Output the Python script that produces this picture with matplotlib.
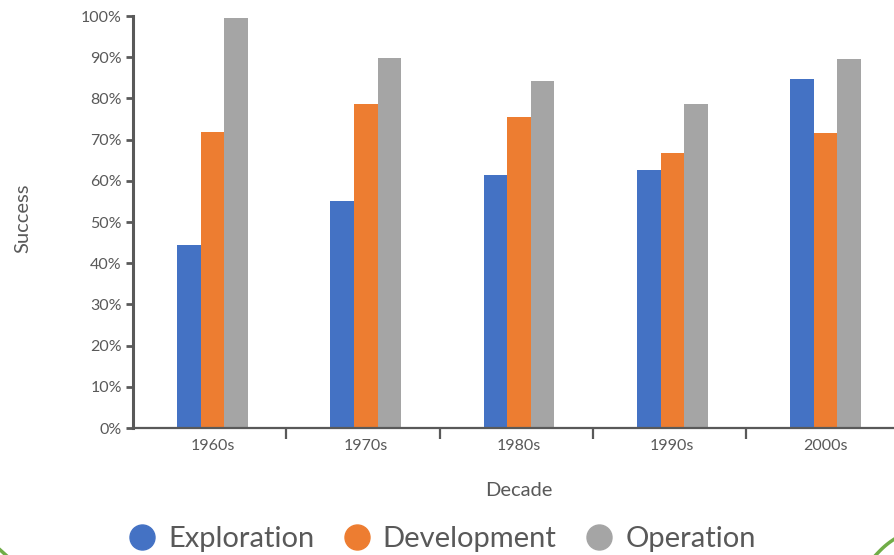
import numpy as np
import matplotlib
matplotlib.use("Agg")
import matplotlib.pyplot as plt
from matplotlib.lines import Line2D
from matplotlib.ticker import FixedLocator, PercentFormatter

decades = ["1960s", "1970s", "1980s", "1990s", "2000s"]
series_names = ["Exploration", "Development", "Operation"]
exploration = [44.4, 55.1, 61.4, 62.6, 84.7]
development = [71.8, 78.6, 75.5, 66.7, 71.6]
operation = [99.6, 89.8, 84.2, 78.6, 89.6]
colors = ["#4472c4", "#ed7d31", "#a5a5a5"]

text_gray = "#595959"
plt.rcParams["font.family"] = ["Lato", "DejaVu Sans"]

W, H = 894, 555
fig = plt.figure(figsize=(W / 100, H / 100), dpi=100)

# axes run past the right edge of the figure, like a cropped slide
left, bottom, top = 133, 428, 16
cat_w = 153.3
ax = fig.add_axes([left / W, (H - bottom) / H, 5 * cat_w / W, (bottom - top) / H])

x = np.arange(len(decades)) + 0.5
bw = 0.154
for i, (vals, c) in enumerate(zip([exploration, development, operation], colors)):
    ax.bar(x + 0.018 + (i - 1) * bw, vals, width=bw, color=c, zorder=2)

ax.set_xlim(0, 5)
ax.set_ylim(0, 100)

for s in ["top", "right"]:
    ax.spines[s].set_visible(False)
ax.spines["left"].set_color(text_gray)
ax.spines["left"].set_linewidth(2.2)
ax.spines["bottom"].set_color(text_gray)
ax.spines["bottom"].set_linewidth(1.6)

ax.yaxis.set_major_locator(FixedLocator(np.arange(0, 101, 10)))
ax.yaxis.set_major_formatter(PercentFormatter(decimals=0))
ax.tick_params(axis="y", direction="out", length=5, width=2, color=text_gray,
               labelcolor=text_gray, labelsize=11.5, pad=3)

# boundary ticks between decades, labels centred on each group
ax.xaxis.set_major_locator(FixedLocator([1, 2, 3, 4]))
ax.xaxis.set_major_formatter(plt.NullFormatter())
ax.xaxis.set_minor_locator(FixedLocator(x + 0.018))
ax.set_xticklabels(decades, minor=True)
ax.tick_params(axis="x", which="major", direction="out", length=8, width=1.6, color=text_gray)
ax.tick_params(axis="x", which="minor", length=0, labelcolor=text_gray, labelsize=11.5, pad=8)

fig.text(23 / W, 1 - 218 / H, "Success", rotation=90, ha="center", va="center",
         fontsize=14.5, color=text_gray)
fig.text(519 / W, 1 - 490 / H, "Decade", ha="center", va="center",
         fontsize=14.5, color=text_gray)

handles = [Line2D([], [], marker="o", linestyle="none", markersize=18,
                  markerfacecolor=c, markeredgecolor=c) for c in colors]
fig.legend(handles, series_names, loc="center", bbox_to_anchor=(440 / W, 1 - 539 / H),
           ncol=3, frameon=False, fontsize=21, labelcolor=text_gray,
           handletextpad=0.3, columnspacing=0.85, handlelength=1.2)

# green frame corners peeking in at the bottom
t = np.linspace(0, 1, 20)
fig.add_artist(Line2D((874 + 22 * t) / W, 1 - (557 - 19 * t - 1.5 * np.sin(np.pi * t)) / H,
                      color="#70ad47", linewidth=2.5, transform=fig.transFigure))
fig.add_artist(Line2D((-2 + 10 * t) / W, 1 - (548 + 9 * t) / H,
                      color="#70ad47", linewidth=2.5, transform=fig.transFigure))

fig.savefig("out.png", dpi=100)
